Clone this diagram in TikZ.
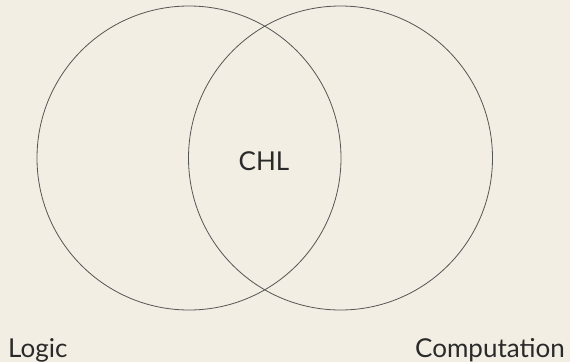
\documentclass[tikz,border=0pt]{standalone}
\usepackage{fontspec}
\setmainfont{Lato}
\usepackage{tikz}
\usetikzlibrary{positioning}

\definecolor{paper}{HTML}{F3EEE3}
\definecolor{ink}{HTML}{2A2A2A}
\definecolor{rim}{HTML}{555555}

\begin{document}
\begin{tikzpicture}[x=1pt, y=-1pt,
    every node/.style={text=ink, font=\fontsize{26}{31}\selectfont},
    set/.style={circle, draw=rim, line width=0.8pt, minimum size=304pt, inner sep=0pt}]
    \useasboundingbox[fill=paper] (0,0) rectangle (570,362);
    \node[set] (logicset) at (189,158) {};
    \node[set] (compset) at (340.5,158) {};
    \node (chl) at (264,161) {CHL};
    \node[anchor=base west, inner sep=0pt] (logic) at (8,357.5) {Logic};
    \node[anchor=base east, inner sep=0pt] (comp) at (565,357.5) {Computation};
\end{tikzpicture}
\end{document}
